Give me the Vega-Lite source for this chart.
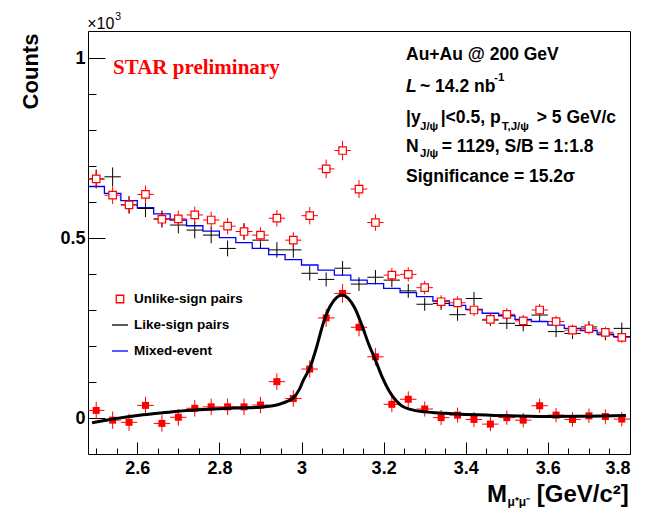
{
  "$schema": "https://vega.github.io/schema/vega-lite/v6.json",
  "width": 542,
  "height": 423,
  "autosize": {"type": "none"},
  "padding": {"left": 88, "top": 31, "right": 17, "bottom": 54},
  "background": "white",
  "config": {
    "view": {"stroke": "black", "strokeWidth": 1},
    "font": "Liberation Sans",
    "axis": {"labelFont": "Liberation Sans", "titleFont": "Liberation Sans", "labelColor": "black", "titleColor": "black", "tickColor": "black", "domain": false, "grid": false}
  },
  "datasets": {
    "bins": [
      {"m": 2.50, "u": 0.664, "eu": 0.025, "l": 0.664, "el": 0.026, "s": 0.021, "es": 0.024, "dx": 0.02},
      {"m": 2.54, "u": 0.619, "eu": 0.025, "l": 0.670, "el": 0.026, "s": -0.006, "es": 0.024, "dx": 0.02},
      {"m": 2.58, "u": 0.592, "eu": 0.024, "l": 0.592, "el": 0.024, "s": -0.012, "es": 0.024, "dx": 0.02},
      {"m": 2.62, "u": 0.621, "eu": 0.025, "l": 0.582, "el": 0.024, "s": 0.035, "es": 0.024, "dx": 0.02},
      {"m": 2.66, "u": 0.552, "eu": 0.023, "l": 0.553, "el": 0.0235, "s": -0.015, "es": 0.023, "dx": 0.02},
      {"m": 2.70, "u": 0.553, "eu": 0.023, "l": 0.536, "el": 0.023, "s": 0.002, "es": 0.023, "dx": 0.02},
      {"m": 2.74, "u": 0.564, "eu": 0.023, "l": 0.522, "el": 0.023, "s": 0.027, "es": 0.023, "dx": 0.02},
      {"m": 2.78, "u": 0.550, "eu": 0.023, "l": 0.508, "el": 0.0225, "s": 0.031, "es": 0.023, "dx": 0.02},
      {"m": 2.82, "u": 0.533, "eu": 0.023, "l": 0.471, "el": 0.022, "s": 0.031, "es": 0.023, "dx": 0.02},
      {"m": 2.86, "u": 0.518, "eu": 0.023, "l": 0.518, "el": 0.023, "s": 0.031, "es": 0.023, "dx": 0.02},
      {"m": 2.90, "u": 0.508, "eu": 0.022, "l": 0.494, "el": 0.022, "s": 0.036, "es": 0.023, "dx": 0.02},
      {"m": 2.94, "u": 0.555, "eu": 0.023, "l": 0.467, "el": 0.0215, "s": 0.101, "es": 0.023, "dx": 0.02},
      {"m": 2.98, "u": 0.494, "eu": 0.022, "l": 0.467, "el": 0.0215, "s": 0.054, "es": 0.023, "dx": 0.02},
      {"m": 3.02, "u": 0.562, "eu": 0.024, "l": 0.402, "el": 0.020, "s": 0.136, "es": 0.024, "dx": 0.02},
      {"m": 3.06, "u": 0.692, "eu": 0.026, "l": 0.385, "el": 0.0195, "s": 0.278, "es": 0.025, "dx": 0.02},
      {"m": 3.10, "u": 0.743, "eu": 0.027, "l": 0.416, "el": 0.020, "s": 0.346, "es": 0.026, "dx": 0.02},
      {"m": 3.14, "u": 0.636, "eu": 0.025, "l": 0.372, "el": 0.019, "s": 0.252, "es": 0.025, "dx": 0.02},
      {"m": 3.18, "u": 0.543, "eu": 0.023, "l": 0.391, "el": 0.020, "s": 0.170, "es": 0.024, "dx": 0.02},
      {"m": 3.22, "u": 0.397, "eu": 0.020, "l": 0.383, "el": 0.0195, "s": 0.038, "es": 0.022, "dx": 0.02},
      {"m": 3.26, "u": 0.399, "eu": 0.020, "l": 0.353, "el": 0.019, "s": 0.052, "es": 0.022, "dx": 0.02},
      {"m": 3.30, "u": 0.362, "eu": 0.019, "l": 0.316, "el": 0.018, "s": 0.025, "es": 0.021, "dx": 0.02},
      {"m": 3.34, "u": 0.323, "eu": 0.018, "l": 0.318, "el": 0.018, "s": 0.001, "es": 0.021, "dx": 0.02},
      {"m": 3.38, "u": 0.320, "eu": 0.018, "l": 0.287, "el": 0.017, "s": 0.008, "es": 0.021, "dx": 0.02},
      {"m": 3.42, "u": 0.300, "eu": 0.017, "l": 0.332, "el": 0.018, "s": -0.004, "es": 0.021, "dx": 0.02},
      {"m": 3.46, "u": 0.274, "eu": 0.0165, "l": 0.272, "el": 0.0165, "s": -0.017, "es": 0.020, "dx": 0.02},
      {"m": 3.50, "u": 0.288, "eu": 0.017, "l": 0.263, "el": 0.016, "s": 0.001, "es": 0.020, "dx": 0.02},
      {"m": 3.54, "u": 0.270, "eu": 0.0165, "l": 0.257, "el": 0.016, "s": -0.006, "es": 0.020, "dx": 0.02},
      {"m": 3.58, "u": 0.300, "eu": 0.017, "l": 0.286, "el": 0.017, "s": 0.034, "es": 0.020, "dx": 0.02},
      {"m": 3.62, "u": 0.268, "eu": 0.016, "l": 0.240, "el": 0.0155, "s": 0.008, "es": 0.020, "dx": 0.02},
      {"m": 3.66, "u": 0.244, "eu": 0.0155, "l": 0.235, "el": 0.0155, "s": -0.004, "es": 0.020, "dx": 0.02},
      {"m": 3.70, "u": 0.248, "eu": 0.016, "l": 0.253, "el": 0.016, "s": 0.006, "es": 0.020, "dx": 0.02},
      {"m": 3.74, "u": 0.238, "eu": 0.0155, "l": 0.231, "el": 0.015, "s": 0.004, "es": 0.020, "dx": 0.02},
      {"m": 3.78, "u": 0.224, "eu": 0.015, "l": 0.249, "el": 0.016, "s": -0.003, "es": 0.020, "dx": 0.02}
    ],
    "mix": [
      {"lo": 2.48, "mixed": 0.643}, {"lo": 2.52, "mixed": 0.624}, {"lo": 2.56, "mixed": 0.604}, {"lo": 2.60, "mixed": 0.584},
      {"lo": 2.64, "mixed": 0.567}, {"lo": 2.68, "mixed": 0.550}, {"lo": 2.72, "mixed": 0.534}, {"lo": 2.76, "mixed": 0.519},
      {"lo": 2.80, "mixed": 0.501}, {"lo": 2.84, "mixed": 0.487}, {"lo": 2.88, "mixed": 0.471}, {"lo": 2.92, "mixed": 0.454},
      {"lo": 2.96, "mixed": 0.440}, {"lo": 3.00, "mixed": 0.425}, {"lo": 3.04, "mixed": 0.411}, {"lo": 3.08, "mixed": 0.397},
      {"lo": 3.12, "mixed": 0.383}, {"lo": 3.16, "mixed": 0.373}, {"lo": 3.20, "mixed": 0.360}, {"lo": 3.24, "mixed": 0.348},
      {"lo": 3.28, "mixed": 0.337}, {"lo": 3.32, "mixed": 0.325}, {"lo": 3.36, "mixed": 0.313}, {"lo": 3.40, "mixed": 0.302},
      {"lo": 3.44, "mixed": 0.291}, {"lo": 3.48, "mixed": 0.284}, {"lo": 3.52, "mixed": 0.274}, {"lo": 3.56, "mixed": 0.268},
      {"lo": 3.60, "mixed": 0.258}, {"lo": 3.64, "mixed": 0.249}, {"lo": 3.68, "mixed": 0.243}, {"lo": 3.72, "mixed": 0.233},
      {"lo": 3.76, "mixed": 0.226}, {"lo": 3.80, "mixed": 0.226}
    ],
    "fit": [
      {"m": 2.49, "f": -0.013}, {"m": 2.52, "f": -0.007}, {"m": 2.55, "f": -0.001}, {"m": 2.60, "f": 0.007},
      {"m": 2.65, "f": 0.013}, {"m": 2.70, "f": 0.019}, {"m": 2.75, "f": 0.023}, {"m": 2.80, "f": 0.026},
      {"m": 2.85, "f": 0.028}, {"m": 2.90, "f": 0.030}, {"m": 2.93, "f": 0.034}, {"m": 2.948, "f": 0.039},
      {"m": 2.965, "f": 0.046}, {"m": 2.98, "f": 0.056}, {"m": 2.995, "f": 0.080}, {"m": 3.004, "f": 0.104},
      {"m": 3.021, "f": 0.141}, {"m": 3.037, "f": 0.198}, {"m": 3.053, "f": 0.263}, {"m": 3.069, "f": 0.309},
      {"m": 3.086, "f": 0.335}, {"m": 3.098, "f": 0.342}, {"m": 3.114, "f": 0.332}, {"m": 3.130, "f": 0.305},
      {"m": 3.147, "f": 0.258}, {"m": 3.163, "f": 0.207}, {"m": 3.180, "f": 0.161}, {"m": 3.196, "f": 0.115},
      {"m": 3.212, "f": 0.078}, {"m": 3.229, "f": 0.050}, {"m": 3.245, "f": 0.033}, {"m": 3.265, "f": 0.024},
      {"m": 3.30, "f": 0.017}, {"m": 3.35, "f": 0.013}, {"m": 3.40, "f": 0.010}, {"m": 3.45, "f": 0.008},
      {"m": 3.50, "f": 0.006}, {"m": 3.60, "f": 0.004}, {"m": 3.70, "f": 0.005}, {"m": 3.79, "f": 0.007}
    ]
  },
  "resolve": {"axis": {"x": "independent", "y": "independent"}},
  "layer": [
    {
      "data": {"name": "mix"},
      "mark": {"type": "line", "interpolate": "step-after", "strokeWidth": 1.3},
      "encoding": {
        "x": {"field": "lo", "type": "quantitative", "scale": {"domain": [2.48, 3.8], "nice": false, "zero": false},
              "axis": {"orient": "bottom", "values": [2.6, 2.8, 3, 3.2, 3.4, 3.6, 3.8], "format": "~g", "tickSize": -12, "labelFontSize": 18, "labelFontWeight": "bold", "labelPadding": 17, "title": null}},
        "y": {"field": "mixed", "type": "quantitative", "scale": {"domain": [-0.1, 1.075], "nice": false, "zero": false},
              "axis": {"orient": "left", "values": [0, 0.5, 1], "format": "~g", "tickSize": -17, "labelFontSize": 18, "labelFontWeight": "bold", "labelPadding": 20,
                       "title": "Counts", "titleFontSize": 22, "titleFontWeight": "bold", "titleAngle": 270, "titleAlign": "center", "titleBaseline": "middle", "titleX": -58, "titleY": 40}},
        "color": {"datum": "Mixed-event", "type": "nominal",
                  "scale": {"domain": ["Unlike-sign pairs", "Like-sign pairs", "Mixed-event"], "range": ["#ff0000", "#000000", "#0000ff"]},
                  "legend": {"title": null, "orient": "none", "legendX": 23, "legendY": 259, "padding": 0, "symbolSize": 256, "symbolStrokeWidth": 1.3,
                             "labelFont": "Liberation Sans", "labelFontSize": 13.5, "labelFontWeight": "bold", "labelColor": "black", "labelOffset": 5, "rowPadding": 10,
                             "encode": {"symbols": {"update": {"shape": {"signal": "datum.value === 'Unlike-sign pairs' ? 'square' : 'stroke'"}, "size": {"signal": "datum.value === 'Unlike-sign pairs' ? 56 : 256"}, "fill": {"value": "transparent"}}}}}}
      }
    },
    {
      "data": {"name": "bins"},
      "mark": {"type": "errorbar", "ticks": false, "thickness": 1},
      "encoding": {
        "x": {"field": "m", "type": "quantitative", "axis": null},
        "xError": {"field": "dx"},
        "y": {"field": "l", "type": "quantitative", "axis": null},
        "color": {"datum": "Like-sign pairs", "type": "nominal"}
      }
    },
    {
      "data": {"name": "bins"},
      "mark": {"type": "errorbar", "ticks": false, "thickness": 1},
      "encoding": {
        "y": {"field": "l", "type": "quantitative", "axis": null},
        "yError": {"field": "el"},
        "x": {"field": "m", "type": "quantitative", "axis": null},
        "color": {"datum": "Like-sign pairs", "type": "nominal"}
      }
    },
    {
      "data": {"name": "bins"},
      "mark": {"type": "errorbar", "ticks": false, "thickness": 1},
      "encoding": {
        "x": {"field": "m", "type": "quantitative", "axis": null},
        "xError": {"field": "dx"},
        "y": {"field": "u", "type": "quantitative", "axis": null},
        "color": {"datum": "Unlike-sign pairs", "type": "nominal"}
      }
    },
    {
      "data": {"name": "bins"},
      "mark": {"type": "errorbar", "ticks": false, "thickness": 1},
      "encoding": {
        "y": {"field": "u", "type": "quantitative", "axis": null},
        "yError": {"field": "eu"},
        "x": {"field": "m", "type": "quantitative", "axis": null},
        "color": {"datum": "Unlike-sign pairs", "type": "nominal"}
      }
    },
    {
      "data": {"name": "bins"},
      "mark": {"type": "point", "shape": "square", "size": 56, "filled": false, "fill": "white", "strokeWidth": 1.2, "opacity": 1},
      "encoding": {
        "x": {"field": "m", "type": "quantitative", "axis": null},
        "y": {"field": "u", "type": "quantitative", "axis": null},
        "color": {"datum": "Unlike-sign pairs", "type": "nominal"}
      }
    },
    {
      "data": {"name": "bins"},
      "mark": {"type": "errorbar", "ticks": false, "thickness": 1, "color": "#ff0000"},
      "encoding": {
        "x": {"field": "m", "type": "quantitative", "axis": null},
        "xError": {"field": "dx"},
        "y": {"field": "s", "type": "quantitative", "axis": null}
      }
    },
    {
      "data": {"name": "bins"},
      "mark": {"type": "errorbar", "ticks": false, "thickness": 1, "color": "#ff0000"},
      "encoding": {
        "y": {"field": "s", "type": "quantitative", "axis": null},
        "yError": {"field": "es"},
        "x": {"field": "m", "type": "quantitative", "axis": null}
      }
    },
    {
      "data": {"name": "bins"},
      "mark": {"type": "point", "shape": "square", "size": 49, "filled": true, "color": "#ff0000", "opacity": 1},
      "encoding": {
        "x": {"field": "m", "type": "quantitative", "axis": null},
        "y": {"field": "s", "type": "quantitative", "axis": null}
      }
    },
    {
      "data": {"name": "fit"},
      "mark": {"type": "line", "interpolate": "monotone", "strokeWidth": 3, "color": "black"},
      "encoding": {
        "x": {"field": "m", "type": "quantitative",
              "axis": {"orient": "bottom", "values": [2.5, 2.55, 2.65, 2.7, 2.75, 2.85, 2.9, 2.95, 3.05, 3.1, 3.15, 3.25, 3.3, 3.35, 3.45, 3.5, 3.55, 3.65, 3.7, 3.75], "tickSize": -6, "labels": false, "title": null}},
        "y": {"field": "f", "type": "quantitative",
              "axis": {"orient": "left", "values": [0.1, 0.2, 0.3, 0.4, 0.6, 0.7, 0.8, 0.9], "tickSize": -8, "labels": false, "title": null}}
      }
    },
    {
      "data": {"values": [
        {"t": "Au+Au @ 200 GeV", "x": 3.2545, "y": 1.008},
        {"t": "~ 14.2 nb", "x": 3.2886, "y": 0.919},
        {"t": "|y", "x": 3.2545, "y": 0.833},
        {"t": "|<0.5, p", "x": 3.339, "y": 0.833},
        {"t": "> 5 GeV/c", "x": 3.5728, "y": 0.833},
        {"t": "N", "x": 3.2545, "y": 0.754},
        {"t": "= 1129, S/B = 1:1.8", "x": 3.3414, "y": 0.754},
        {"t": "Significance = 15.2σ", "x": 3.2545, "y": 0.670}
      ]},
      "mark": {"type": "text", "align": "left", "baseline": "middle", "font": "Liberation Sans", "fontSize": 17.5, "fontWeight": "bold", "color": "black"},
      "encoding": {
        "x": {"field": "x", "type": "quantitative", "axis": null},
        "y": {"field": "y", "type": "quantitative", "axis": null},
        "text": {"field": "t"}
      }
    },
    {
      "data": {"values": [{"t": "L", "x": 3.2545, "y": 0.919}]},
      "mark": {"type": "text", "align": "left", "baseline": "middle", "font": "Liberation Sans", "fontSize": 17.5, "fontWeight": "bold", "fontStyle": "italic", "color": "black"},
      "encoding": {
        "x": {"field": "x", "type": "quantitative", "axis": null},
        "y": {"field": "y", "type": "quantitative", "axis": null},
        "text": {"field": "t"}
      }
    },
    {
      "data": {"values": [
        {"t": "J/ψ", "x": 3.2886, "y": 0.808},
        {"t": "T,J/ψ", "x": 3.4876, "y": 0.808},
        {"t": "J/ψ", "x": 3.2886, "y": 0.733},
        {"t": "-1", "x": 3.469, "y": 0.945}
      ]},
      "mark": {"type": "text", "align": "left", "baseline": "middle", "font": "Liberation Sans", "fontSize": 11.5, "fontWeight": "bold", "color": "black"},
      "encoding": {
        "x": {"field": "x", "type": "quantitative", "axis": null},
        "y": {"field": "y", "type": "quantitative", "axis": null},
        "text": {"field": "t"}
      }
    },
    {
      "data": {"values": [{"t": "STAR preliminary", "x": 2.541, "y": 0.972}]},
      "mark": {"type": "text", "align": "left", "baseline": "middle", "font": "Liberation Serif", "fontSize": 21, "fontWeight": "bold", "color": "#ff0000"},
      "encoding": {
        "x": {"field": "x", "type": "quantitative", "axis": null},
        "y": {"field": "y", "type": "quantitative", "axis": null},
        "text": {"field": "t"}
      }
    },
    {
      "data": {"values": [{"t": "×10", "x": 2.478, "y": 1.094}]},
      "mark": {"type": "text", "align": "left", "baseline": "middle", "font": "Liberation Sans", "fontSize": 16, "color": "black"},
      "encoding": {
        "x": {"field": "x", "type": "quantitative", "axis": null},
        "y": {"field": "y", "type": "quantitative", "axis": null},
        "text": {"field": "t"}
      }
    },
    {
      "data": {"values": [{"t": "3", "x": 2.5458, "y": 1.113}]},
      "mark": {"type": "text", "align": "left", "baseline": "middle", "font": "Liberation Sans", "fontSize": 11, "color": "black"},
      "encoding": {
        "x": {"field": "x", "type": "quantitative", "axis": null},
        "y": {"field": "y", "type": "quantitative", "axis": null},
        "text": {"field": "t"}
      }
    },
    {
      "data": {"values": [{"t": "M", "x": 3.4518, "y": -0.214}]},
      "mark": {"type": "text", "align": "left", "baseline": "middle", "font": "Liberation Sans", "fontSize": 24, "fontWeight": "bold", "color": "black"},
      "encoding": {
        "x": {"field": "x", "type": "quantitative", "axis": null},
        "y": {"field": "y", "type": "quantitative", "axis": null},
        "text": {"field": "t"}
      }
    },
    {
      "data": {"values": [{"t": "[GeV/c²]", "x": 3.797, "y": -0.214}]},
      "mark": {"type": "text", "align": "right", "baseline": "middle", "font": "Liberation Sans", "fontSize": 24, "fontWeight": "bold", "color": "black"},
      "encoding": {
        "x": {"field": "x", "type": "quantitative", "axis": null},
        "y": {"field": "y", "type": "quantitative", "axis": null},
        "text": {"field": "t"}
      }
    },
    {
      "data": {"values": [{"t": "μ⁺μ⁻", "x": 3.5015, "y": -0.233}]},
      "mark": {"type": "text", "align": "left", "baseline": "middle", "font": "Liberation Sans", "fontSize": 12, "fontWeight": "bold", "color": "black"},
      "encoding": {
        "x": {"field": "x", "type": "quantitative", "axis": null},
        "y": {"field": "y", "type": "quantitative", "axis": null},
        "text": {"field": "t"}
      }
    }
  ]
}
